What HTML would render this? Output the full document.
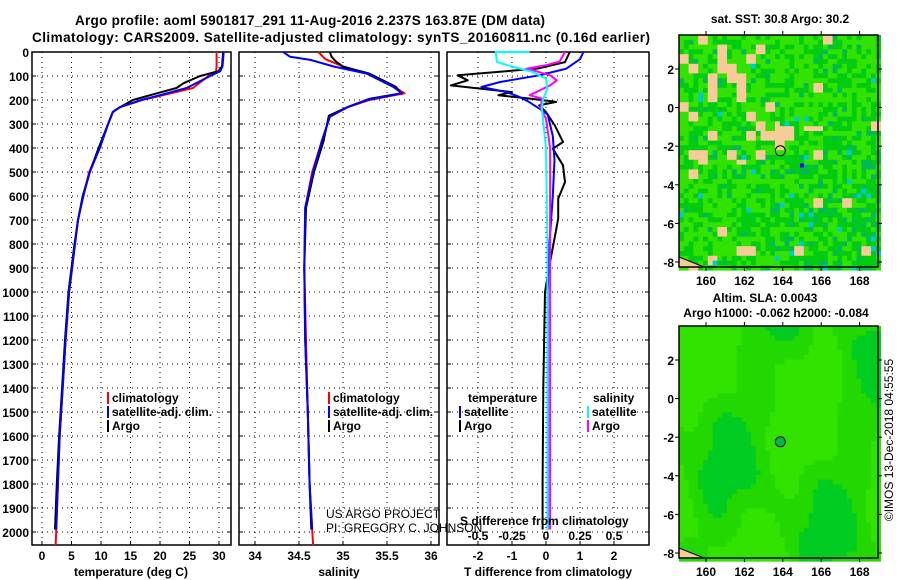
<!DOCTYPE html>
<html><head><meta charset="utf-8">
<style>
html,body{margin:0;padding:0;background:#fff;}
svg{display:block;font-family:"Liberation Sans",Arial,sans-serif;font-weight:bold;}
</style></head>
<body>
<svg id="fig" width="900" height="580" viewBox="0 0 900 580" xmlns="http://www.w3.org/2000/svg">
<text x="310" y="25" text-anchor="middle" font-size="13.5" textLength="470">Argo profile: aoml 5901817_291 11-Aug-2016 2.237S 163.87E (DM data)</text>
<text x="341" y="42" text-anchor="middle" font-size="13.5" textLength="618">Climatology: CARS2009. Satellite-adjusted climatology: synTS_20160811.nc (0.16d earlier)</text>
<g id="plots"></g>
<text transform="translate(893,440) rotate(-90)" text-anchor="middle" font-size="12" font-weight="normal">©IMOS 13-Dec-2018 04:55:55</text>
</svg>
<script>
// ---------- data ----------
const depthTicks=[0,100,200,300,400,500,600,700,800,900,1000,1100,1200,1300,1400,1500,1600,1700,1800,1900,2000];
const tempClimDepth=[0,60,80,100,150,180,200,230,250,300,400,500,600,700,800,900,1000,1200,1400,1600,1800,2000,2055];
const tempClimVal=[29.6,29.6,29.5,28.2,25.6,20.5,17.0,13.2,12.0,11.2,9.8,8.0,7.0,6.1,5.6,5.1,4.6,4.0,3.5,3.0,2.7,2.4,2.3];
const tempSatDepth=[0,60,80,100,150,180,200,230,250,300,400,500,600,700,800,900,1000,1200,1400,1600,1800,1990];
const tempSatVal=[30.8,30.6,30.2,28.5,24.5,20.0,16.8,13.2,12.0,11.2,9.8,8.1,7.0,6.1,5.6,5.1,4.6,4.0,3.5,3.0,2.7,2.4];
const tempArgoDepth=[0,60,80,100,130,150,180,200,230,250,300,400,500,600,700,800,900,1000,1200,1400,1600,1800,1990];
const tempArgoVal=[30.7,30.5,29.9,26.8,24.0,22.8,18.3,15.4,13.2,12.0,11.2,9.6,8.1,6.9,6.1,5.5,5.0,4.5,3.9,3.4,2.9,2.5,2.2];
const salClimDepth=[0,30,60,90,145,172,200,230,270,370,500,650,900,1200,1500,1800,2055];
const salClimVal=[34.72,34.80,35.00,35.27,35.58,35.70,35.30,35.05,34.85,34.76,34.65,34.57,34.56,34.58,34.60,34.62,34.66];
const salSatDepth=[0,20,33,61,90,145,172,200,230,270,370,500,650,900,1200,1500,1800,1990];
const salSatVal=[34.32,34.40,34.63,34.90,35.27,35.57,35.67,35.27,35.05,34.85,34.76,34.66,34.57,34.56,34.57,34.60,34.62,34.65];
const salArgoDepth=[0,20,40,61,90,145,172,195,230,265,370,500,650,900,1200,1500,1800,1990];
const salArgoVal=[34.85,34.87,34.92,35.00,35.30,35.60,35.66,35.30,35.05,34.84,34.78,34.67,34.58,34.56,34.57,34.60,34.62,34.64];
const tdSatDepth=[0,30,69,97,125,146,167,188,208,236,260,350,450,600,800,1000,1400,1800,1990];
const tdSatVal=[1.1,1.0,0.6,-0.2,-1.35,-1.9,-1.15,-0.77,-0.5,-0.2,0.05,0.2,0.25,0.2,0.1,0.05,0.05,0.05,0.05];
const tdArgoDepth=[0,42,69,97,118,139,153,167,180,194,208,222,250,306,375,403,472,542,611,694,778,889,1000,1400,1800,1990];
const tdArgoVal=[0.7,0.56,-0.26,-2.6,-2.3,-2.8,-1.9,-1.0,-1.4,-0.47,0.3,-0.2,0.0,0.26,0.5,0.2,0.5,0.56,0.36,0.36,0.25,0.1,-0.03,-0.08,-0.1,-0.1];
const sdSatDepth=[0,0,42,62,83,111,153,194,236,400,800,1400,1990];
const sdSatVal=[-0.12,-0.37,-0.36,-0.24,-0.1,0.0,0.01,-0.02,-0.03,0.0,0.01,0.01,0.01];
const sdArgoDepth=[0,40,55,69,97,118,139,180,194,236,278,400,800,1400,1990];
const sdArgoVal=[0.14,0.1,0.0,-0.14,0.03,0.08,0.03,-0.12,-0.03,-0.04,0.0,0.03,0.03,0.03,0.03];
const tempTicks=[0,5,10,15,20,25,30];
const salTicks=[34,34.5,35,35.5,36];
const tdTicks=[-2,-1,0,1,2];
const sdTicks=[-0.5,-0.25,0,0.25,0.5];
const sdTickLabels=['-0.5','-0.25','0','0.25','0.5'];
const mapLatTicks=[2,0,-2,-4,-6,-8];
const mapLonTicks=[160,162,164,166,168];

// ---------- helpers ----------
const NS='http://www.w3.org/2000/svg';
const root=document.getElementById('plots');
function mk(tag,attrs,parent){const e=document.createElementNS(NS,tag);for(const k in attrs)e.setAttribute(k,attrs[k]);(parent||root).appendChild(e);return e;}
const TOP=52,BOT=545;
const yD=d=>TOP+d*0.24;
const xT=v=>42+5.9*v;
const xS=v=>255+88*(v-34);
const xTD=v=>546+34*v;
const xSD=v=>546+136*v;
function txt(x,y,s,anchor,size,parent,name,weight){const e=mk('text',{x:x,y:y,'text-anchor':anchor||'start','font-size':size||12},parent);if(weight)e.setAttribute('font-weight',weight);e.textContent=s;return e;}

function panel(L,R,name,xs,xf,labelsY){
  const g=mk('g',{});
  
  
  depthTicks.forEach(d=>{const l=mk('line',{x1:L,x2:R,y1:yD(d),y2:yD(d),stroke:'#000','stroke-width':1,'stroke-dasharray':'1,4'},g);
    
    mk('line',{x1:L,x2:L+4,y1:yD(d),y2:yD(d),stroke:'#000'},g);mk('line',{x1:R-4,x2:R,y1:yD(d),y2:yD(d),stroke:'#000'},g);
    if(labelsY){txt(L-3,yD(d)+5,String(d),'end',12,g,'depth-tick-label');}
  });
  xs.forEach(v=>{const x=xf(v);const l=mk('line',{x1:x,x2:x,y1:TOP,y2:BOT,stroke:'#000','stroke-width':1,'stroke-dasharray':'1,4'},g);
    
    mk('line',{x1:x,x2:x,y1:BOT-4,y2:BOT,stroke:'#000'},g);});
  const r=mk('rect',{x:L,y:TOP,width:R-L,height:BOT-TOP,fill:'none',stroke:'#000','stroke-width':1.5},g);
  
  return g;
}
function line(depths,vals,xf,color,name,g,w){
  const pts=depths.map((d,i)=>xf(vals[i]).toFixed(1)+','+yD(d).toFixed(1)).join(' ');
  const p=mk('polyline',{points:pts,fill:'none',stroke:color,'stroke-width':w||2,'stroke-linejoin':'round'},g);
  
}
function legendEntry(x,y,color,label,g,name){
  mk('rect',{x:x,y:y-10,width:2,height:12,fill:color},g);
  txt(x+5,y,label,'start',12,g,name);
}

// ---------- panel 1: temperature ----------
const g1=panel(32,231,'temperature-panel',tempTicks,xT,true);
tempTicks.forEach(v=>txt(xT(v),560,String(v),'middle',12,g1,'temperature-tick-label'));
txt(131,576,'temperature (deg C)','middle',12,g1,'temperature-axis-title');
line(tempClimDepth,tempClimVal,xT,'#f00','temperature-climatology-line',g1);
line(tempArgoDepth,tempArgoVal,xT,'#000','temperature-argo-line',g1);
line(tempSatDepth,tempSatVal,xT,'#00f','temperature-satellite-line',g1);
legendEntry(107,402,'#f00','climatology',g1,'legend-climatology');
legendEntry(107,416,'#00f','satellite-adj. clim.',g1,'legend-satellite-adj');
legendEntry(107,430,'#000','Argo',g1,'legend-argo');

// ---------- panel 2: salinity ----------
const g2=panel(239,439,'salinity-panel',salTicks,xS,false);
salTicks.forEach(v=>txt(xS(v),560,String(v),'middle',12,g2,'salinity-tick-label'));
txt(339,576,'salinity','middle',12,g2,'salinity-axis-title');
line(salClimDepth,salClimVal,xS,'#f00','salinity-climatology-line',g2);
line(salArgoDepth,salArgoVal,xS,'#000','salinity-argo-line',g2);
line(salSatDepth,salSatVal,xS,'#00f','salinity-satellite-line',g2);
legendEntry(328,402,'#f00','climatology',g2,'legend-climatology-sal');
legendEntry(328,416,'#00f','satellite-adj. clim.',g2,'legend-satellite-adj-sal');
legendEntry(328,430,'#000','Argo',g2,'legend-argo-sal');
txt(326,518,'US ARGO PROJECT','start',12,g2,'project-credit','normal');
txt(326,532,'PI: GREGORY C. JOHNSON','start',12,g2,'pi-credit','normal');

// ---------- panel 3: differences ----------
const g3=panel(447,649,'difference-panel',tdTicks,xTD,false);
tdTicks.forEach(v=>txt(xTD(v),560,String(v),'middle',12,g3,'t-diff-tick-label'));
txt(548,576,'T difference from climatology','middle',12,g3,'t-diff-axis-title');
line(tdArgoDepth,tdArgoVal,xTD,'#000','t-diff-argo-line',g3);
line(tdSatDepth,tdSatVal,xTD,'#00f','t-diff-satellite-line',g3);
line(sdArgoDepth,sdArgoVal,xSD,'#f0f','s-diff-argo-line',g3);
line(sdSatDepth,sdSatVal,xSD,'#0ff','s-diff-satellite-line',g3);
txt(460,525,'S difference from climatology','start',12,g3,'s-diff-axis-title');
sdTicks.forEach((v,i)=>txt(xSD(v),540,sdTickLabels[i],'middle',12,g3,'s-diff-tick-label'));
txt(468,402,'temperature','start',12,g3,'legend-temperature-header');
legendEntry(459,416,'#00f','satellite',g3,'legend-t-satellite');
legendEntry(459,430,'#000','Argo',g3,'legend-t-argo');
txt(593,402,'salinity','start',12,g3,'legend-salinity-header');
legendEntry(587,416,'#0ff','satellite',g3,'legend-s-satellite');
legendEntry(587,430,'#f0f','Argo',g3,'legend-s-argo');

// ---------- maps ----------
function hash(i,j,s){let h=(i*374761393+j*668265263+s*982451653)|0;h=(h^(h>>>13))*1274126177|0;return ((h^(h>>>16))>>>0)/4294967296;}
function mapPanel(top,name,kind){
  const L=679,R=878,B=top+232;
  const lonX=lo=>706+(lo-160)*19.2;
  const latY=la=>top+34+(2-la)*19.3;
  const g=mk('g',{});
  const cs=4.8;
  for(let j=0;j*cs<B-top;j++)for(let i=0;i*cs<R-L;i++){
    let c;
    const fx=i/42,fy=j/48;
    if(kind==='sst'){
      const r=hash(i,j,1);const r2=hash(i>>1,j>>1,2);
      const tanP=(fx<0.5&&fy<0.55?0.2:0.03)+(fy>0.38&&fy<0.5&&fx>0.4&&fx<0.7?0.3:0);
      const tealP=0.04+0.2*fx*fy;
      if(r2<tanP)c='#f8cc98';else if(r<tealP)c='#00bb55';else if(r<0.4+0.3*fx*fy)c='#00cc11';else c='#33e300';
      if(hash(i,j,5)<0.005+0.04*fx*fy)c='#00cccc';
    }else{
      const v=Math.sin(i*0.25+j*0.08)+Math.cos(j*0.15-i*0.1)*0.8+Math.sin(i*0.5-j*0.3)*0.3;
      c=v>0.2?'#33e300':(v>-0.9?'#22d800':'#00cc22');
    }
    mk('rect',{x:L+i*cs,y:top+j*cs,width:cs+0.4,height:cs+0.4,fill:c},g);
  }
  mk('polygon',{points:`${L},${B-10} ${L+25},${B} ${L},${B}`,fill:'#f8cc98',stroke:'#000','stroke-width':1},g);
  if(kind==='sst'){const b=mk('rect',{x:lonX(165)-2,y:latY(-3)-2,width:4,height:4,fill:'#00f'},g);}
  const c=mk('circle',{cx:lonX(163.87),cy:latY(-2.237),r:5,fill:kind==='sst'?'none':'#00bb44',stroke:'#000','stroke-width':1},g);
  
  mk('rect',{x:L,y:top,width:R-L,height:B-top,fill:'none',stroke:'#000','stroke-width':1.5},g);
  mapLatTicks.forEach(la=>{const y=latY(la);txt(L-5,y+5,String(la),'end',12,g,'latitude-tick-label');
    mk('line',{x1:L-4,x2:L,y1:y,y2:y,stroke:'#000'},g);mk('line',{x1:R,x2:R+4,y1:y,y2:y,stroke:'#000'},g);});
  mapLonTicks.forEach(lo=>{const x=lonX(lo);txt(x,B+18,String(lo),'middle',12,g,'longitude-tick-label');
    mk('line',{x1:x,x2:x,y1:B,y2:B+4,stroke:'#000'},g);mk('line',{x1:x,x2:x,y1:top-4,y2:top,stroke:'#000'},g);});
  return g;
}
const m1=mapPanel(35,'sst-map','sst');
txt(780,23,'sat. SST: 30.8 Argo: 30.2','middle',12,m1,'sst-map-title');
const m2=mapPanel(326,'sla-map','sla');
txt(765,302,'Altim. SLA: 0.0043','middle',12,m2,'sla-map-title');
txt(776,317,'Argo h1000: -0.062 h2000: -0.084','middle',12,m2,'sla-map-subtitle');
</script>
</body></html>
